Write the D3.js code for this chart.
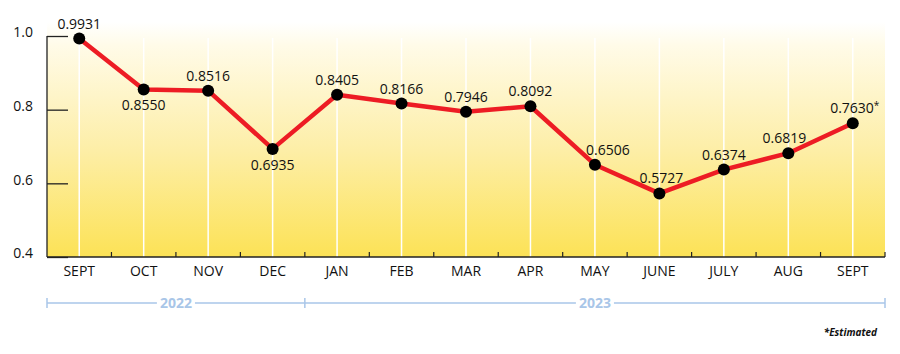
<!DOCTYPE html>
<html>
<head>
<meta charset="utf-8">
<script src="https://cdn.jsdelivr.net/npm/d3@7"></script>
<style>
  body { margin: 0; background: #fff; }
  svg text { font-family: "Open Sans", "Noto Sans", sans-serif; }
</style>
</head>
<body>
<div id="chart"></div>
<script>
const months = ["SEPT", "OCT", "NOV", "DEC", "JAN", "FEB", "MAR", "APR", "MAY", "JUNE", "JULY", "AUG", "SEPT"];
const values = [0.9931, 0.8550, 0.8516, 0.6935, 0.8405, 0.8166, 0.7946, 0.8092, 0.6506, 0.5727, 0.6374, 0.6819, 0.7630];
const labels = ["0.9931", "0.8550", "0.8516", "0.6935", "0.8405", "0.8166", "0.7946", "0.8092", "0.6506", "0.5727", "0.6374", "0.6819", "0.7630"];
const labelNote = ["", "", "", "", "", "", "", "", "", "", "", "", "*"];
const labelBelow = [false, true, false, true, false, false, false, false, false, false, false, false, false];
const labelShift = [0, 0, 0, 0, 0, 0, 0, 0, 13, 2, 0, -4, 2];
const yTicks = [0.4, 0.6, 0.8, 1.0];
const years = [{ label: "2022", from: 0, to: 4 }, { label: "2023", from: 4, to: 13 }];

const W = 900, H = 354;
const plotLeft = 47, plotRight = 885, plotTop = 36, plotBottom = 257;

const svg = d3.select("#chart").append("svg")
    .attr("width", W)
    .attr("height", H);

const keys = months.map((m, i) => i);
const x = d3.scaleBand().domain(keys).range([plotLeft, plotRight]);
const y = d3.scaleLinear().domain([0.4, 1.0]).range([plotBottom, plotTop]);
const cx = i => x(i) + x.bandwidth() / 2;

// background gradient
const defs = svg.append("defs");
const grad = defs.append("linearGradient")
    .attr("id", "bg")
    .attr("x1", "0%").attr("x2", "0%")
    .attr("y1", "0%").attr("y2", "100%");
grad.append("stop").attr("offset", "0%").attr("stop-color", "#ffffff");
grad.append("stop").attr("offset", "10%").attr("stop-color", "#fffbe8");
grad.append("stop").attr("offset", "55%").attr("stop-color", "#fdeea6");
grad.append("stop").attr("offset", "100%").attr("stop-color", "#fce256");

svg.append("rect")
    .attr("x", plotLeft)
    .attr("y", 22)
    .attr("width", plotRight - plotLeft)
    .attr("height", plotBottom - 22)
    .attr("fill", "url(#bg)");

// white gridlines at each month
svg.selectAll(".grid")
    .data(keys)
    .enter()
    .append("line")
    .attr("class", "grid")
    .attr("x1", d => cx(d)).attr("x2", d => cx(d))
    .attr("y1", 38).attr("y2", plotBottom)
    .attr("stroke", "#fff")
    .attr("stroke-width", 1.5);

// y axis (ticks point into the plot)
const yAxis = svg.append("g")
    .attr("transform", `translate(${plotLeft},0)`)
    .call(d3.axisRight(y).tickValues(yTicks).tickSize(21).tickFormat(d3.format(".1f")));
yAxis.select(".domain").remove();
yAxis.selectAll(".tick line").attr("stroke", "#222").attr("stroke-width", 1.3);
yAxis.selectAll(".tick text")
    .attr("x", -14)
    .attr("dy", "0.05em")
    .attr("text-anchor", "end")
    .attr("font-size", 14)
    .attr("fill", "#111");
svg.append("line")
    .attr("x1", plotLeft).attr("x2", plotLeft)
    .attr("y1", y(1.0)).attr("y2", plotBottom)
    .attr("stroke", "#222").attr("stroke-width", 1.3);

// x axis with ticks at band edges pointing up
svg.append("line")
    .attr("x1", plotLeft).attr("x2", plotRight)
    .attr("y1", plotBottom).attr("y2", plotBottom)
    .attr("stroke", "#222").attr("stroke-width", 1.3);
svg.selectAll(".xtick")
    .data(keys.slice(1).concat([13]))
    .enter()
    .append("line")
    .attr("class", "xtick")
    .attr("x1", d => d < 13 ? x(d) : plotRight)
    .attr("x2", d => d < 13 ? x(d) : plotRight)
    .attr("y1", plotBottom - 5).attr("y2", plotBottom)
    .attr("stroke", "#222").attr("stroke-width", 1.2);
svg.selectAll(".month")
    .data(keys)
    .enter()
    .append("text")
    .attr("class", "month")
    .attr("x", d => cx(d))
    .attr("y", 276)
    .attr("text-anchor", "middle")
    .attr("font-size", 14)
    .attr("fill", "#111")
    .text(d => months[d]);

// data line
const line = d3.line().x((d, i) => cx(i)).y(d => y(d));
svg.append("path")
    .datum(values)
    .attr("d", line)
    .attr("fill", "none")
    .attr("stroke", "#ed1c24")
    .attr("stroke-width", 4.5)
    .attr("stroke-linejoin", "round");

svg.selectAll(".dot")
    .data(values)
    .enter()
    .append("circle")
    .attr("class", "dot")
    .attr("cx", (d, i) => cx(i))
    .attr("cy", d => y(d))
    .attr("r", 6)
    .attr("fill", "#000");

const vals = svg.selectAll(".val")
    .data(values)
    .enter()
    .append("text")
    .attr("class", "val")
    .attr("x", (d, i) => cx(i) + labelShift[i])
    .attr("y", (d, i) => labelBelow[i] ? y(d) + 21 : y(d) - 10)
    .attr("text-anchor", "middle")
    .attr("font-size", 14)
    .attr("fill", "#111");
vals.append("tspan").text((d, i) => labels[i]);
vals.append("tspan")
    .attr("font-size", 10)
    .attr("dy", -4)
    .text((d, i) => labelNote[i]);

// year brackets
const yearColor = "#a9c6e8";
const yb = 303;
const edge = i => i < 13 ? x(i) : plotRight;
years.forEach(yr => {
    const x0 = edge(yr.from), x1 = edge(yr.to);
    const mid = (x0 + x1) / 2;
    const g = svg.append("g");
    const t = g.append("text")
        .attr("x", mid)
        .attr("y", yb + 5)
        .attr("text-anchor", "middle")
        .attr("font-size", 14)
        .attr("font-weight", "bold")
        .attr("fill", yearColor)
        .text(yr.label);
    const half = t.node().getComputedTextLength() / 2 + 3;
    g.append("line").attr("x1", x0).attr("x2", mid - half)
        .attr("y1", yb).attr("y2", yb)
        .attr("stroke", yearColor).attr("stroke-width", 1.5);
    g.append("line").attr("x1", mid + half).attr("x2", x1)
        .attr("y1", yb).attr("y2", yb)
        .attr("stroke", yearColor).attr("stroke-width", 1.5);
});
[0, 4, 13].forEach(i => {
    svg.append("line")
        .attr("x1", edge(i)).attr("x2", edge(i))
        .attr("y1", yb - 5).attr("y2", yb + 5)
        .attr("stroke", yearColor).attr("stroke-width", 1.5);
});

svg.append("text")
    .attr("x", 877)
    .attr("y", 336)
    .attr("text-anchor", "end")
    .attr("font-size", 10)
    .attr("font-weight", "bold")
    .attr("font-style", "italic")
    .attr("fill", "#111")
    .text("*Estimated");
</script>
</body>
</html>
